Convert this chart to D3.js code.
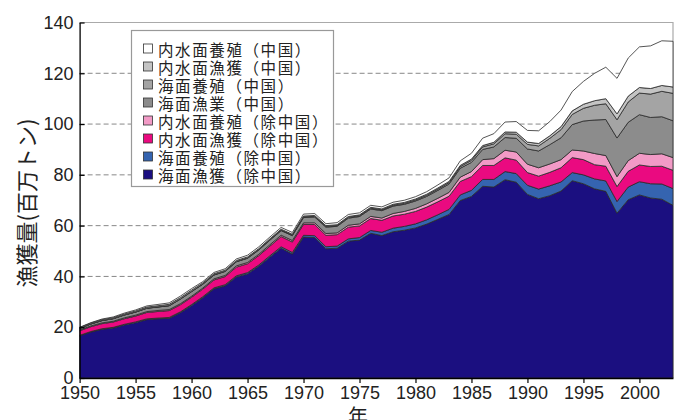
<!DOCTYPE html>
<html lang="ja">
<head>
<meta charset="utf-8">
<script src="https://cdn.jsdelivr.net/npm/d3@7"></script>
<style>
  html, body { margin: 0; padding: 0; background: #fff; }
  svg { display: block; }
  .tick text { font-family: "Liberation Sans", Arial, sans-serif; }
  .jp { font-family: "Noto Sans CJK JP", sans-serif; }
</style>
</head>
<body>
<div id="chart"></div>
<script>
// 年
const years = [
  1950, 1951, 1952, 1953, 1954, 1955, 1956, 1957, 1958, 1959,
  1960, 1961, 1962, 1963, 1964, 1965, 1966, 1967, 1968, 1969,
  1970, 1971, 1972, 1973, 1974, 1975, 1976, 1977, 1978, 1979,
  1980, 1981, 1982, 1983, 1984, 1985, 1986, 1987, 1988, 1989,
  1990, 1991, 1992, 1993, 1994, 1995, 1996, 1997, 1998, 1999,
  2000, 2001, 2002, 2003
];

// 百万トン (下から積み上げ順)
const marineCaptureExChina = [
  16.6, 18.1, 19.2, 19.7, 20.9, 21.8, 23.0, 23.3, 23.5, 25.7,
  28.5, 31.6, 35.1, 36.3, 39.8, 41.0, 44.0, 47.6, 51.1, 48.8,
  55.5, 55.3, 50.9, 51.1, 53.9, 54.3, 57.0, 56.1, 57.6, 58.2,
  59.1, 60.6, 62.5, 64.4, 69.9, 71.5, 75.5, 75.2, 78.1, 77.1,
  72.3, 70.6, 71.8, 73.6, 77.7, 76.5, 74.5, 73.5, 64.9, 70.2,
  72.1, 70.9, 70.4, 68.0
];
const marineAquaExChina = [
  0.2, 0.2, 0.2, 0.25, 0.25, 0.3, 0.3, 0.3, 0.35, 0.35,
  0.4, 0.4, 0.4, 0.45, 0.45, 0.5, 0.5, 0.55, 0.6, 0.65,
  0.7, 0.75, 0.8, 0.85, 0.9, 1.0, 1.1, 1.3, 1.4, 1.5,
  1.6, 1.7, 1.8, 2.0, 2.2, 2.4, 2.7, 3.0, 3.2, 3.4,
  3.6, 3.8, 3.9, 3.6, 3.2, 3.5, 3.9, 4.1, 4.6, 5.0,
  5.2, 5.6, 6.0, 6.6
];
const inlandCaptureExChina = [
  1.8, 1.9, 2.0, 2.1, 2.2, 2.3, 2.5, 2.6, 2.7, 2.8,
  2.9, 3.0, 3.1, 3.2, 3.4, 3.5, 3.7, 3.8, 4.0, 4.1,
  4.3, 4.4, 4.5, 4.5, 4.6, 4.6, 4.7, 4.7, 4.8, 4.8,
  4.9, 5.0, 5.1, 5.2, 5.3, 5.4, 5.5, 5.5, 5.4, 5.3,
  5.0, 5.1, 5.3, 5.6, 5.9, 6.0, 5.6, 5.8, 5.9, 6.2,
  6.6, 6.8, 7.0, 7.2
];
const inlandAquaExChina = [
  0.3, 0.3, 0.3, 0.3, 0.35, 0.35, 0.35, 0.4, 0.4, 0.4,
  0.4, 0.4, 0.45, 0.45, 0.5, 0.5, 0.5, 0.55, 0.55, 0.6,
  0.6, 0.65, 0.7, 0.7, 0.75, 0.8, 0.85, 0.9, 1.0, 1.1,
  1.2, 1.3, 1.4, 1.5, 1.7, 2.0, 2.3, 2.7, 3.0, 3.2,
  3.3, 3.3, 3.3, 3.2, 3.0, 3.4, 4.4, 4.2, 3.9, 4.2,
  4.6, 4.7, 4.9, 5.0
];
const marineCaptureChina = [
  0.6, 0.75, 0.9, 1.0, 1.1, 1.2, 1.3, 1.35, 1.5, 1.8,
  1.8, 1.5, 1.5, 1.55, 1.6, 1.65, 1.7, 1.8, 1.8, 1.9,
  2.1, 2.3, 2.5, 2.6, 2.8, 2.9, 2.9, 2.9, 2.9, 2.8,
  2.9, 2.9, 3.1, 3.3, 3.5, 3.6, 4.0, 4.6, 5.0, 5.4,
  6.0, 6.6, 7.6, 8.6, 10.0, 11.8, 13.2, 14.2, 15.2, 15.1,
  15.2, 14.6, 14.6, 14.5
];
const marineAquaChina = [
  0.02, 0.02, 0.03, 0.03, 0.04, 0.05, 0.06, 0.07, 0.08, 0.09,
  0.1, 0.1, 0.1, 0.12, 0.13, 0.15, 0.16, 0.18, 0.2, 0.22,
  0.25, 0.26, 0.27, 0.28, 0.29, 0.3, 0.3, 0.32, 0.34, 0.36,
  0.4, 0.45, 0.5, 0.55, 0.65, 0.8, 1.0, 1.2, 1.5, 1.6,
  1.8, 2.0, 2.5, 3.2, 4.0, 5.0, 5.8, 6.2, 7.2, 8.0,
  8.5, 9.2, 10.0, 10.8
];
const inlandCaptureChina = [
  0.3, 0.32, 0.34, 0.36, 0.38, 0.4, 0.42, 0.45, 0.5, 0.5,
  0.5, 0.45, 0.42, 0.4, 0.4, 0.4, 0.38, 0.36, 0.35, 0.35,
  0.35, 0.35, 0.35, 0.35, 0.35, 0.35, 0.36, 0.37, 0.38, 0.39,
  0.4, 0.42, 0.44, 0.46, 0.48, 0.5, 0.55, 0.62, 0.7, 0.8,
  0.9, 0.95, 1.0, 1.2, 1.4, 1.6, 1.8, 2.0, 2.3, 2.3,
  2.2, 2.2, 2.3, 2.5
];
const inlandAquaChina = [
  0.15, 0.2, 0.25, 0.3, 0.35, 0.4, 0.45, 0.5, 0.55, 0.6,
  0.6, 0.5, 0.5, 0.55, 0.6, 0.65, 0.7, 0.7, 0.7, 0.7,
  0.75, 0.75, 0.75, 0.8, 0.8, 0.8, 0.8, 0.8, 0.8, 0.85,
  0.9, 1.0, 1.2, 1.4, 1.8, 2.3, 2.9, 3.4, 3.9, 4.2,
  4.6, 5.0, 5.6, 6.5, 7.6, 9.0, 10.8, 12.4, 14.0, 15.0,
  16.0, 16.8, 17.6, 18.0
];

// 系列名 (積み上げ順: 下 → 上)
const seriesNames = [
  '海面漁獲（除中国）', '海面養殖（除中国）', '内水面漁獲（除中国）', '内水面養殖（除中国）',
  '海面漁業（中国）', '海面養殖（中国）', '内水面漁獲（中国）', '内水面養殖（中国）'
];
const seriesValues = [
  marineCaptureExChina, marineAquaExChina, inlandCaptureExChina, inlandAquaExChina,
  marineCaptureChina, marineAquaChina, inlandCaptureChina, inlandAquaChina
];
const seriesColors = [
  '#1b0f80', '#3564b0', '#ea0a80', '#f29ac6',
  '#8c8c8c', '#a4a4a4', '#c4c4c4', '#ffffff'
];

const yTicks = [0, 20, 40, 60, 80, 100, 120, 140];
const xTicks = [1950, 1955, 1960, 1965, 1970, 1975, 1980, 1985, 1990, 1995, 2000];

const width = 676;
const height = 420;

const table = years.map((year, i) => {
  const row = { year };
  seriesNames.forEach((name, k) => { row[name] = seriesValues[k][i]; });
  return row;
});

const svg = d3.select('#chart')
  .append('svg')
  .attr('width', width)
  .attr('height', height);

const x = d3.scaleLinear().domain([1950, 2003]).range([79.6, 673]);
const y = d3.scaleLinear().domain([0, 140]).range([378, 22.5]);

// 補助線
svg.append('g')
  .selectAll('line')
  .data(yTicks.filter((v) => v > 0 && v < 140))
  .enter()
  .append('line')
  .attr('x1', x(1950))
  .attr('x2', x(2003))
  .attr('y1', (v) => y(v))
  .attr('y2', (v) => y(v))
  .attr('stroke', '#888')
  .attr('stroke-width', 1)
  .attr('stroke-dasharray', '5,3');

// 枠 (上・右)
svg.append('path')
  .attr('d', `M${x(1950)},${y(140)}H${x(2003)}V${y(0)}`)
  .attr('fill', 'none')
  .attr('stroke', '#aaa')
  .attr('stroke-width', 1.2);

const stack = d3.stack().keys(seriesNames);
const layers = stack(table);

const area = d3.area()
  .x((d) => x(d.data.year))
  .y0((d) => y(d[0]))
  .y1((d) => y(d[1]));

svg.append('g')
  .selectAll('path')
  .data(layers)
  .enter()
  .append('path')
  .attr('d', area)
  .attr('fill', (d, i) => seriesColors[i])
  .attr('stroke', '#2a2a2a')
  .attr('stroke-width', 0.8)
  .attr('stroke-linejoin', 'round');

// 軸
const yAxis = svg.append('g')
  .attr('transform', `translate(${x(1950)},0)`)
  .call(d3.axisLeft(y).tickValues(yTicks).tickSize(-5).tickSizeOuter(0).tickPadding(6));

const xAxis = svg.append('g')
  .attr('transform', `translate(0,${y(0)})`)
  .call(d3.axisBottom(x).tickValues(xTicks).tickSize(5).tickSizeOuter(0).tickPadding(3)
    .tickFormat(d3.format('d')));

[yAxis, xAxis].forEach((axis) => {
  axis.select('.domain').attr('stroke', '#000').attr('stroke-width', 1.3);
  axis.selectAll('.tick line').attr('stroke', '#000').attr('stroke-width', 1.2);
  axis.selectAll('.tick text').attr('font-size', 18).attr('fill', '#222');
});

// 凡例
const legend = svg.append('g');
legend.append('rect')
  .attr('x', 131.5)
  .attr('y', 30.5)
  .attr('width', 202)
  .attr('height', 156)
  .attr('fill', '#fff')
  .attr('stroke', '#999')
  .attr('stroke-width', 1.2);

const legendItems = seriesNames.map((name, i) => ({ name, color: seriesColors[i] })).reverse();

legend.selectAll('rect.swatch')
  .data(legendItems)
  .enter()
  .append('rect')
  .attr('class', 'swatch')
  .attr('x', 143.5)
  .attr('y', (_, i) => 44 + i * 18)
  .attr('width', 9)
  .attr('height', 9)
  .attr('fill', (d) => d.color)
  .attr('stroke', '#333')
  .attr('stroke-width', 0.8);

legend.selectAll('text')
  .data(legendItems)
  .enter()
  .append('text')
  .attr('class', 'jp')
  .attr('x', 158)
  .attr('y', (_, i) => 48.5 + i * 18)
  .attr('dominant-baseline', 'central')
  .attr('font-size', 15.5)
  .attr('letter-spacing', 1.6)
  .attr('fill', '#222')
  .text((d) => d.name);

// 軸タイトル
svg.append('text')
  .attr('class', 'jp')
  .attr('transform', 'translate(25,203) rotate(-90)')
  .attr('text-anchor', 'middle')
  .attr('dominant-baseline', 'central')
  .attr('font-size', 22)
  .attr('fill', '#222')
  .text('漁獲量(百万トン)');

svg.append('text')
  .attr('class', 'jp')
  .attr('x', 358)
  .attr('y', 424)
  .attr('text-anchor', 'middle')
  .attr('font-size', 20)
  .attr('fill', '#222')
  .text('年');
</script>
</body>
</html>
